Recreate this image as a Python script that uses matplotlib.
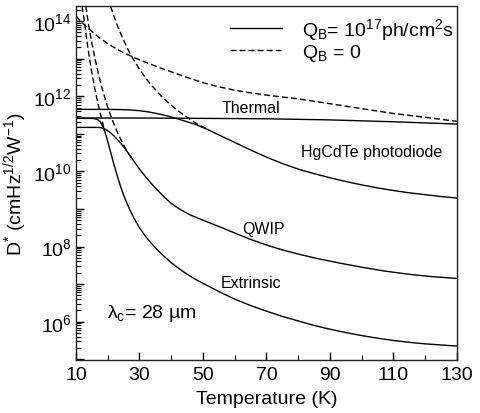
import numpy as np
import matplotlib
matplotlib.use("Agg")
import matplotlib.pyplot as plt
from matplotlib.ticker import FixedLocator, LogLocator, FuncFormatter, MultipleLocator, NullFormatter

plt.rcParams['font.family'] = ['Liberation Sans', 'DejaVu Sans']
plt.rcParams['mathtext.fontset'] = 'custom'
plt.rcParams['mathtext.rm'] = 'Liberation Sans'
plt.rcParams['mathtext.it'] = 'Liberation Sans:italic'
plt.rcParams['mathtext.bf'] = 'Liberation Sans:bold'

# ---- data (log10 of D*) ----
thermal_T = [10, 30, 50, 70, 90, 110, 130]
thermal_solid = [11.42, 11.42, 11.41, 11.40, 11.37, 11.32, 11.26]

thermal_dash_T = [10, 12, 14, 17, 20, 24, 28, 32, 36, 40, 45, 50, 55, 60, 65, 70, 80, 90, 100, 110, 120, 130]
thermal_dash = [14.13, 13.95, 13.80, 13.58, 13.40, 13.20, 13.04, 12.90, 12.77, 12.65, 12.50, 12.36,
                12.25, 12.16, 12.09, 12.03, 11.93, 11.80, 11.67, 11.54, 11.44, 11.33]

hgcdte_T = [10, 20, 24, 27, 30, 33, 36, 39, 42, 45, 48, 51, 54, 57, 60, 63, 66, 70, 75, 80, 85, 90,
            95, 100, 105, 110, 115, 120, 125, 130]
hgcdte_solid = [11.65, 11.65, 11.645, 11.635, 11.615, 11.58, 11.53, 11.47, 11.40, 11.32, 11.24,
                11.13, 11.01, 10.89, 10.77, 10.65, 10.53, 10.38, 10.21, 10.06, 9.94, 9.83, 9.73,
                9.64, 9.56, 9.49, 9.43, 9.38, 9.33, 9.29]

hgcdte_dash_T = [20.9, 22, 23.5, 25, 26.7, 28, 30, 32, 34, 36, 38, 40, 42, 44, 46, 48, 50, 52]
hgcdte_dash = [14.39, 14.12, 13.78, 13.49, 13.19, 12.99, 12.72, 12.48, 12.27, 12.08, 11.91, 11.76,
               11.62, 11.50, 11.38, 11.27, 11.18, 11.09]

qwip_T = [10, 17, 18, 19, 20, 21, 22, 23, 24, 25, 26, 27, 28, 29, 30, 32, 34, 36, 38, 40, 42, 44,
          46, 48, 50, 53, 56, 60, 65, 70, 75, 80, 86, 93, 100, 107, 115, 122, 130]
qwip_solid = [11.17, 11.17, 11.16, 11.13, 11.08, 11.02, 10.94, 10.85, 10.76, 10.65, 10.54, 10.42,
              10.30, 10.18, 10.06, 9.85, 9.65, 9.47, 9.30, 9.15, 9.03, 8.93, 8.84, 8.77, 8.70,
              8.60, 8.50, 8.36, 8.19, 8.04, 7.91, 7.80, 7.68, 7.56, 7.45, 7.35, 7.26, 7.20, 7.15]

qwip_dash_T = [13.1, 14, 15, 16, 17, 18, 19, 20, 21, 22, 23, 24, 25, 26, 27, 28]
qwip_dash = [14.40, 13.88, 13.42, 13.00, 12.62, 12.28, 11.98, 11.71, 11.47, 11.25, 11.05, 10.87,
             10.70, 10.55, 10.42, 10.30]

extr_T = [10, 15, 16, 17, 17.5, 18, 18.5, 19, 19.5, 20, 21, 22, 23, 24, 25, 26, 27, 28, 29, 30,
          32, 34, 36, 38, 40, 42, 44, 46, 48, 50, 53, 56, 60, 65, 70, 75, 80, 85, 90, 95, 100,
          105, 110, 115, 120, 125, 130]
extr_solid = [11.41, 11.41, 11.40, 11.37, 11.33, 11.27, 11.19, 11.08, 10.95, 10.80, 10.48, 10.17,
              9.88, 9.61, 9.37, 9.16, 8.97, 8.80, 8.64, 8.50, 8.26, 8.06, 7.88, 7.72, 7.57, 7.44,
              7.32, 7.21, 7.11, 7.02, 6.89, 6.76, 6.60, 6.43, 6.28, 6.14, 6.02, 5.90, 5.80, 5.71,
              5.63, 5.56, 5.50, 5.45, 5.41, 5.38, 5.35]

extr_dash_T = [11.9, 12.5, 13, 14, 15, 16, 17, 18, 19]
extr_dash = [14.40, 14.08, 13.75, 13.15, 12.62, 12.17, 11.78, 11.42, 11.08]

x_ticks = [10, 30, 50, 70, 90, 110, 130]
curve_labels = [("Thermal", 65.1, 11.71), ("HgCdTe photodiode", 103.1, 10.52),
                ("QWIP", 69.1, 8.49), ("Extrinsic", 65.3, 7.03)]

# ---- figure ----
fig = plt.figure(figsize=(4.8, 4.14), dpi=100)
ax = fig.add_axes([0.1583, 0.128, 0.7937, 0.855])

lw = 1.0
dash = (4.3, 2.2)

def D(v):
    return 10 ** np.asarray(v)

h_solid, = ax.plot(hgcdte_T, D(hgcdte_solid), color='black', lw=lw,
                   label=r'Q$_\mathregular{B}$= 10$^\mathregular{17}$ph/cm$^\mathregular{2}$s')
ax.plot(thermal_T, D(thermal_solid), color='black', lw=lw)
ax.plot(qwip_T, D(qwip_solid), color='black', lw=lw)
ax.plot(extr_T, D(extr_solid), color='black', lw=lw)

h_dash, = ax.plot(thermal_dash_T, D(thermal_dash), color='black', lw=lw, dashes=dash,
                  label=r'Q$_\mathregular{B}$ = 0')
ax.plot(hgcdte_dash_T, D(hgcdte_dash), color='black', lw=lw, dashes=dash)
ax.plot(qwip_dash_T, D(qwip_dash), color='black', lw=lw, dashes=dash)
ax.plot(extr_dash_T, D(extr_dash), color='black', lw=lw, dashes=dash)

ax.set_yscale('log')
ax.set_xlim(10, 130)
ax.set_ylim(10 ** 4.98, 10 ** 14.4)

ax.xaxis.set_major_locator(FixedLocator(x_ticks))
ax.xaxis.set_minor_locator(MultipleLocator(10))
ax.yaxis.set_major_locator(LogLocator(base=10, numticks=30))
ax.yaxis.set_minor_locator(LogLocator(base=10, subs=np.arange(2, 10), numticks=300))
ax.yaxis.set_minor_formatter(NullFormatter())

def yfmt(v, pos):
    e = int(round(np.log10(v)))
    if e % 2 == 0:
        return r'$\mathregular{10^{%d}}$' % e
    return ''
ax.yaxis.set_major_formatter(FuncFormatter(yfmt))

ax.tick_params(which='both', direction='in', top=False, right=False, labelsize=14)
ax.tick_params(which='major', length=6, width=1)
ax.tick_params(which='minor', length=3.5, width=0.8)
ax.tick_params(axis='x', pad=4)
ax.tick_params(axis='y', pad=3)

for s in ax.spines.values():
    s.set_linewidth(1.0)
    s.set_color('#222222')

ax.set_xlabel('Temperature (K)', fontsize=14, labelpad=5)
ax.set_ylabel(r'D$^\mathregular{*}$ (cmHz$^\mathregular{1/2}$W$^\mathregular{-1}$)', fontsize=14, labelpad=3)

for txt, tx, ty in curve_labels:
    ax.text(tx, 10 ** ty, txt, fontsize=11.5, ha='center', va='center')

ax.text(19.8, 10 ** 6.25, r'$\mathregular{\lambda_c}$= 28 µm', fontsize=14, ha='left', va='center')

ax.legend(handles=[h_solid, h_dash], loc='upper right', bbox_to_anchor=(1.016, 1.0),
          frameon=False, fontsize=14, handlelength=2.7, handletextpad=1.0,
          borderaxespad=0.3, borderpad=0.2, labelspacing=0.0)

fig.savefig('out.png', dpi=100)
